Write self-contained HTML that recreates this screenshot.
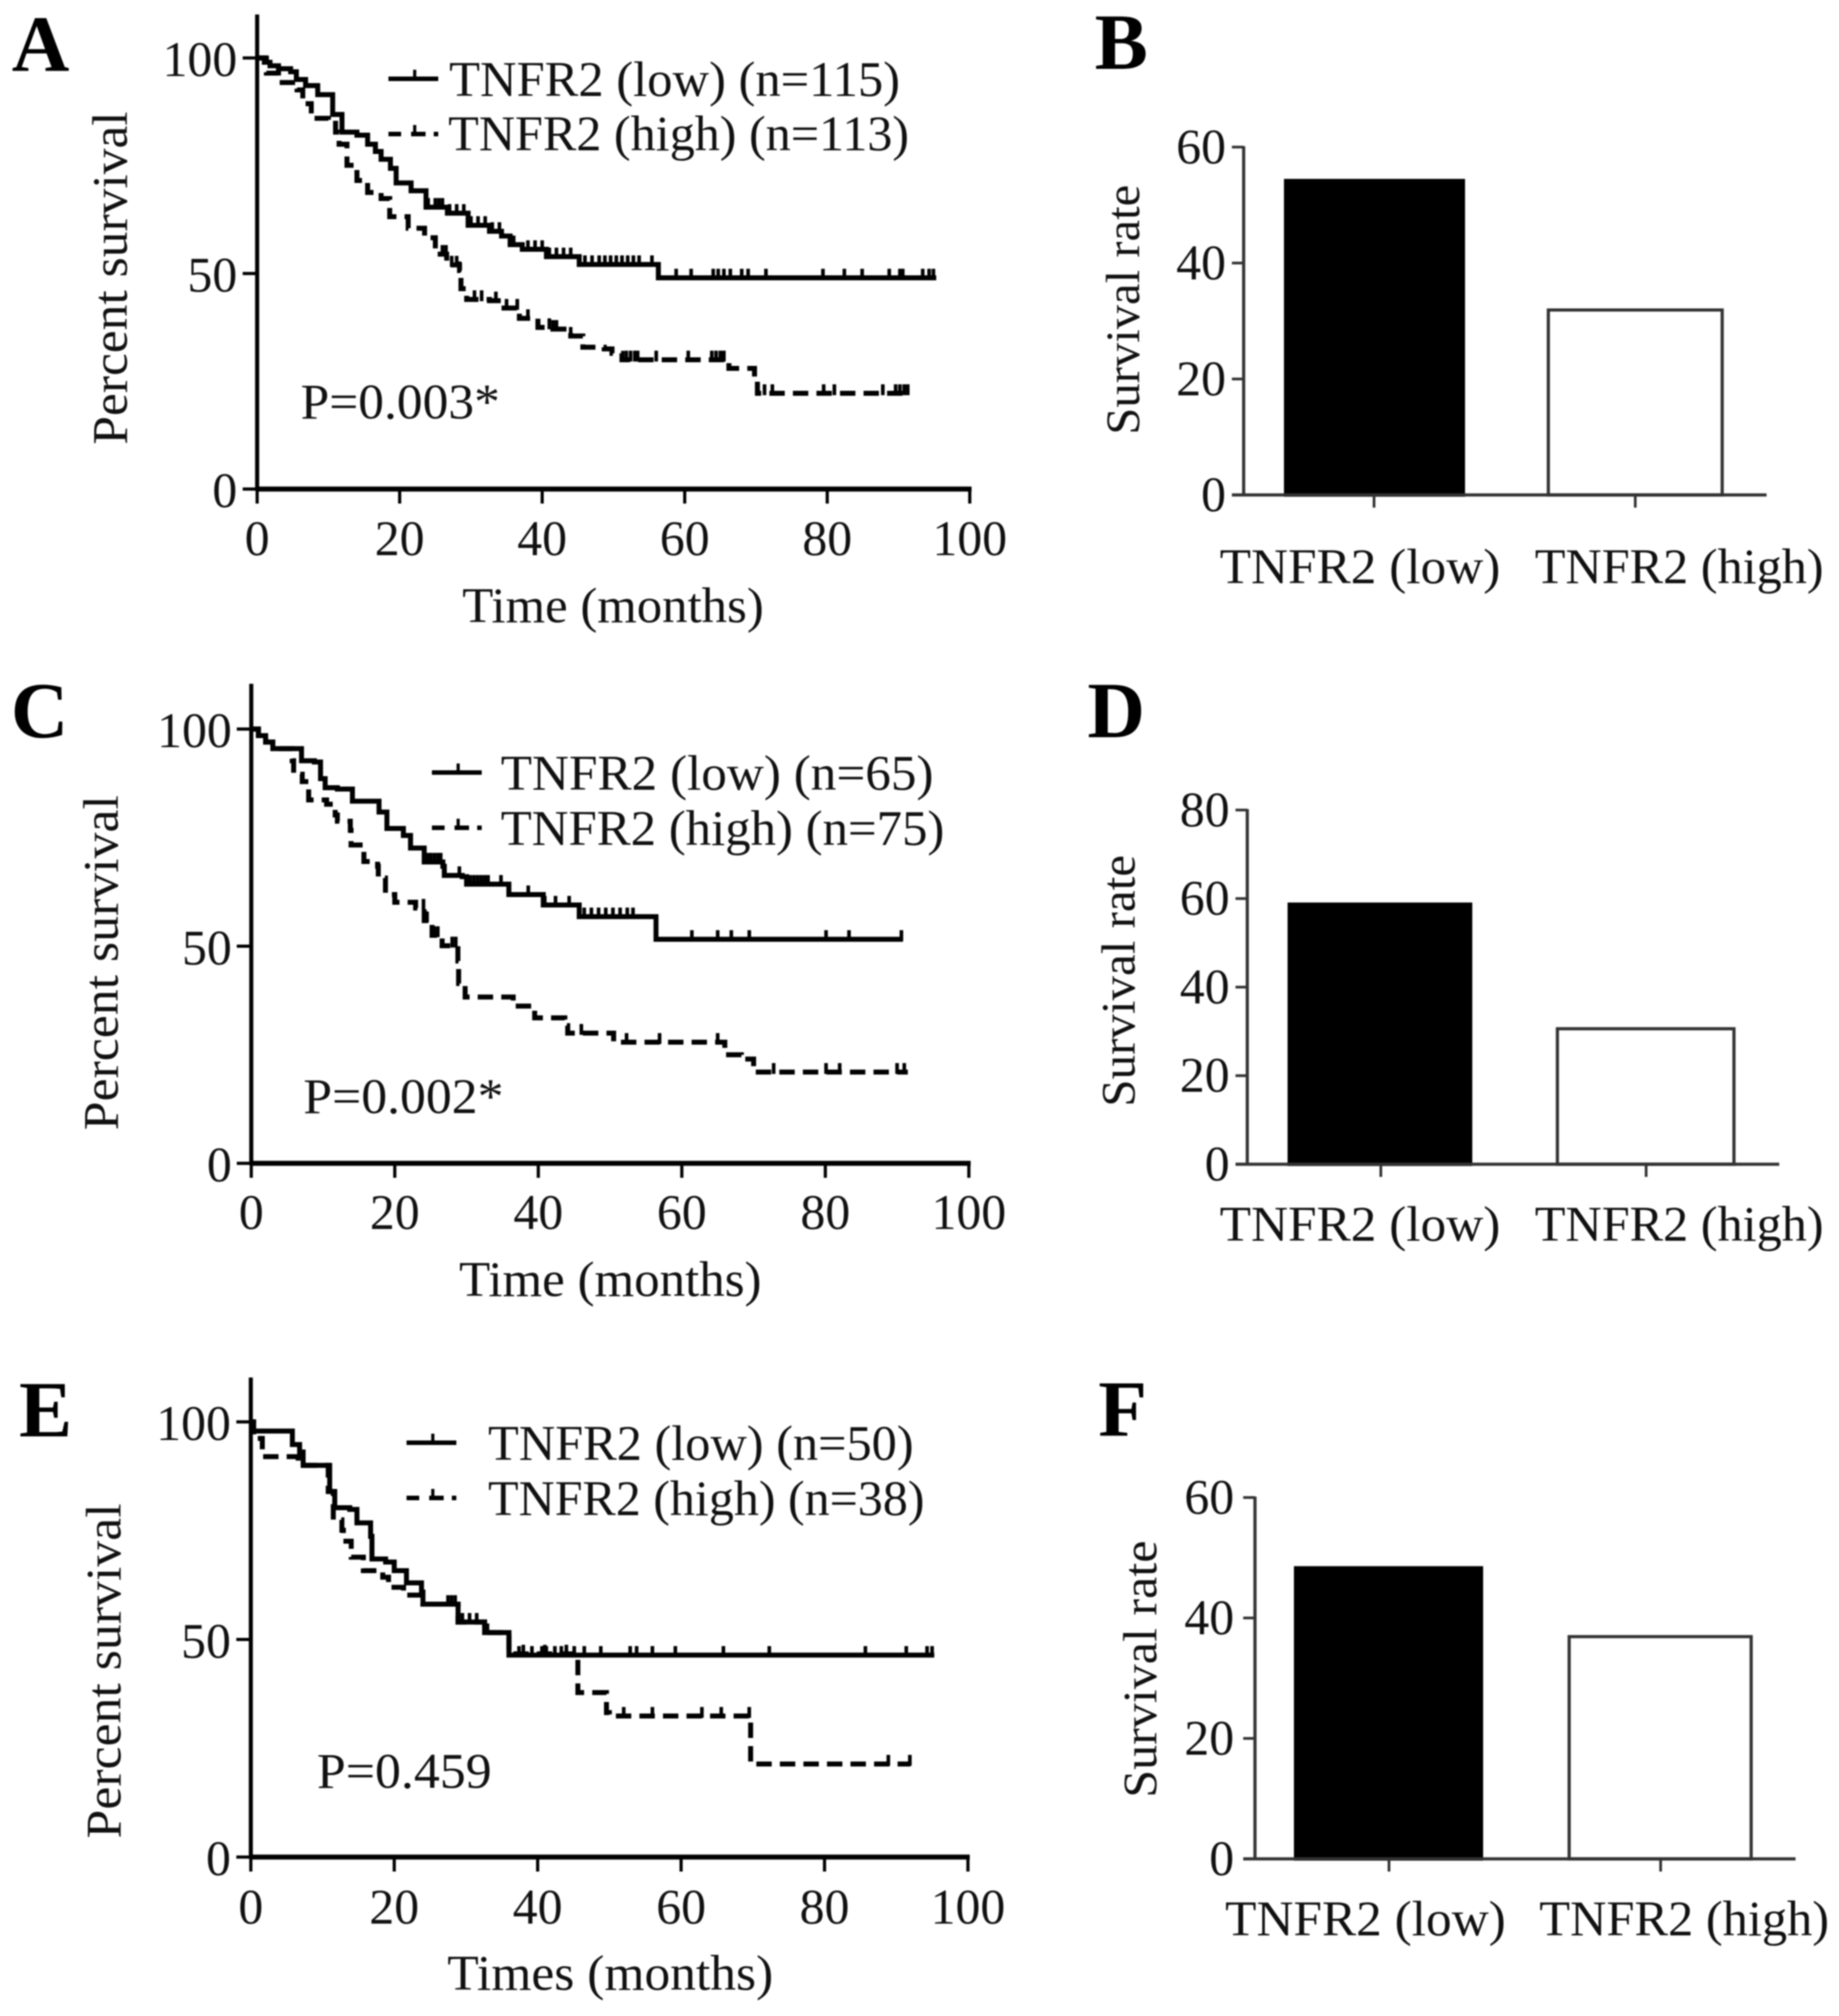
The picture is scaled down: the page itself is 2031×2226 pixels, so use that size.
<!DOCTYPE html>
<html lang="en">
<head>
<meta charset="utf-8">
<title>TNFR2 survival panels</title>
<style>
html,body{margin:0;padding:0;background:#fff;width:2031px;height:2226px;overflow:hidden}
svg{display:block;filter:blur(0.7px)}
text{font-family:"Liberation Serif",serif;fill:#111;font-size:55px}
.panel{font-weight:bold;font-size:88px;fill:#000}
.bartitle{font-size:53px}
</style>
</head>
<body>
<svg id="fig" xmlns="http://www.w3.org/2000/svg" width="2031" height="2226" viewBox="0 0 2031 2226">
<rect width="2031" height="2226" fill="#fff"/>

<g id="pA">
<text class="panel" x="13" y="78">A</text>
<text x="677" y="687" text-anchor="middle" textLength="333" lengthAdjust="spacingAndGlyphs">Time (months)</text>
<text transform="translate(140 307) rotate(-90)" text-anchor="middle" textLength="368" lengthAdjust="spacingAndGlyphs">Percent survival</text>
<text x="496" y="106" textLength="498" lengthAdjust="spacingAndGlyphs">TNFR2 (low) (n=115)</text>
<text x="495" y="166" textLength="509" lengthAdjust="spacingAndGlyphs">TNFR2 (high) (n=113)</text>
<text x="332" y="462" textLength="220" lengthAdjust="spacingAndGlyphs">P=0.003*</text>
</g>

<g id="pC">
<text class="panel" x="12" y="814">C</text>
<text x="674" y="1431" text-anchor="middle" textLength="334" lengthAdjust="spacingAndGlyphs">Time (months)</text>
<text transform="translate(130 1063) rotate(-90)" text-anchor="middle" textLength="370" lengthAdjust="spacingAndGlyphs">Percent survival</text>
<text x="553" y="872" textLength="478" lengthAdjust="spacingAndGlyphs">TNFR2 (low) (n=65)</text>
<text x="553" y="933" textLength="490" lengthAdjust="spacingAndGlyphs">TNFR2 (high) (n=75)</text>
<text x="335" y="1229" textLength="221" lengthAdjust="spacingAndGlyphs">P=0.002*</text>
</g>

<g id="pE">
<text class="panel" x="21" y="1586">E</text>
<text x="674" y="2197" text-anchor="middle" textLength="360" lengthAdjust="spacingAndGlyphs">Times (months)</text>
<text transform="translate(133 1845) rotate(-90)" text-anchor="middle" textLength="370" lengthAdjust="spacingAndGlyphs">Percent survival</text>
<text x="539" y="1612" textLength="470" lengthAdjust="spacingAndGlyphs">TNFR2 (low) (n=50)</text>
<text x="539" y="1673" textLength="482" lengthAdjust="spacingAndGlyphs">TNFR2 (high) (n=38)</text>
<text x="350" y="1974" textLength="193" lengthAdjust="spacingAndGlyphs">P=0.459</text>
</g>

<g id="pB">
<text class="panel" x="1209" y="76">B</text>
<text class="bartitle" transform="translate(1258 342) rotate(-90)" text-anchor="middle" textLength="276" lengthAdjust="spacingAndGlyphs">Survival rate</text>
</g>
<g id="pD">
<text class="panel" x="1201" y="814">D</text>
<text class="bartitle" transform="translate(1253 1083) rotate(-90)" text-anchor="middle" textLength="278" lengthAdjust="spacingAndGlyphs">Survival rate</text>
</g>
<g id="pF">
<text class="panel" x="1213" y="1585">F</text>
<text class="bartitle" transform="translate(1277 1843) rotate(-90)" text-anchor="middle" textLength="284" lengthAdjust="spacingAndGlyphs">Survival rate</text>
</g>
</svg>

<script>
// ---------- shared tick labels ----------
const kmTimeTicks = [0, 20, 40, 60, 80, 100];
const kmSurvivalTicks = [0, 50, 100];
const barCategories = ["TNFR2 (low)", "TNFR2 (high)"];
const barTicksB = [0, 20, 40, 60];
const barTicksD = [0, 20, 40, 60, 80];
const barTicksF = [0, 20, 40, 60];

// ---------- bar values ----------
const barValuesB = [54.2, 31.9];
const barValuesD = [58.7, 30.6];
const barValuesF = [48.3, 36.9];

// ---------- panel A ----------
const aLowMonths = [0,1,1.8,3,4.7,5.5,6.8,8.5,10.6,11.9,14,15.5,16.6,17.4,18.7,19.5,21.6,23.7,26.7,29.6,32.6,34.3,35.5,37.2,40.6,45.2,56.3,95.3];
const aLowSurvival = [100,99,98.2,97.5,96.8,95,93.6,91.5,86.9,82.8,82.1,80,78.3,76.5,74.4,71,69.2,65.4,64,61.2,59.8,58.7,56.7,55.6,53.9,52.1,49,49];
const aLowCensored = [24,25,25.5,26,27,28,29,30,31,32,33,34,36,38,39,40,41,42,43,44,46,47,48,48.8,49.6,50.4,51.2,52,52.8,53.6,55.4,58.8,60.9,64,64.7,65.5,66.4,68,68.9,71.4,79.4,82.4,84.9,88.7,90.2,90.6,93.4,94.3,94.9];
const aHighMonths = [0,1.3,3,5.6,6.4,7.6,10,11,11.5,12.6,14,15.5,17.4,18.6,21.2,23.5,25,26.6,28.4,28.6,29.4,32.6,34.2,36.8,39.4,41.5,44,45.7,48.7,49.8,51.2,66.2,69.8,70.2,91.3];
const aHighSurvival = [100,96.5,94.3,92.6,89.4,86,85.6,82.8,80,75.1,71.6,68.8,67.4,63.2,60.5,58.3,54.5,52,50.7,46.5,44,43.7,42,39.6,37.5,37.1,35.5,32.9,32.5,31.5,30,28,26,22.2,22.2];
const aHighCensored = [26,26.5,27.3,28,28.4,30.5,31.5,33.5,35,36.5,38,41,41.5,42,44,51.8,52.4,53,53.4,56,60.5,63.8,64.4,65,65.5,71.2,72.3,79.5,81,87.8,89.6,90.2,90.8,91.3];

// ---------- panel C ----------
const cLowMonths = [0,1,2,3,5.7,7,8.8,9.65,10.3,12,14.1,16.8,17.8,18.9,21.2,22.2,24.1,26.7,26.9,29.4,30,35.3,35.9,40.1,40.7,45.1,45.7,56.4,90.8];
const cLowSurvival = [100,98.5,97,95.5,95.5,92.7,92.4,88.6,86.5,86.2,83.4,83.4,80.9,77.1,75.5,72.6,69.4,68.4,66.3,66,64.3,64.3,61.9,61.9,59.5,59.5,56.8,51.6,51.6];
const cLowCensored = [24.6,25,25.5,26,26.4,29,30.5,31,31.5,32,32.5,33,34.8,38.6,40.9,42.4,44.3,46.4,47.4,48.4,49.4,50.4,51.4,52.4,53.2,61.4,65,66.9,69.4,80.1,83.3,90.6];
const cHighMonths = [0,1,2,3,5.7,5.9,7.1,8,10.5,11.7,12,13.8,13.9,15.7,17.6,17.7,18.7,20,22.9,24.1,25.2,26.6,28.8,28.9,29.8,35.5,36.5,39.5,43.7,44.1,50.5,66,68.3,70,91.5];
const cHighSurvival = [100,98.5,97,95.5,92.7,89.6,87.9,83.7,82.7,80.2,78.8,76.7,73.3,69.5,68.4,65.7,61.9,60.1,58.8,55.9,52.5,50.1,46.6,41.4,38.3,38.3,36.2,33.5,31.7,30,27.9,25,24,21,21];
const cHighCensored = [24,24.5,25.5,26,28,28.5,46,52.3,56.9,65,72.8,80.1,82,90,91];

// ---------- panel E ----------
const eLowMonths = [0,0.3,4.7,5.8,6.8,7.3,10.8,11,11.7,13.8,14.8,16.7,16.9,18.8,20,21.7,23.8,24,26.3,28.9,32.2,32.6,35.6,36,95.3];
const eLowSurvival = [100,97.9,97.9,94.8,93.1,90,90,84,80.3,79.9,76.8,73.7,68.5,67.8,65.8,63,60.9,58.1,58.1,54,54,51.6,51.6,46.4,46.4];
const eLowCensored = [27.5,28,28.5,29.5,30.5,31.5,33,37.4,39.2,40.6,41.2,42.4,43.3,45.1,46.5,48.8,52.9,53.8,56,59.2,65.9,72.3,85.7,91.4,94.3,95];
const eHighMonths = [0,0.4,1.6,6.2,6.6,10.8,11.5,12.7,12.9,14,15.7,16.9,18.4,19.2,21.3,24,26.3,28.9,32.2,32.6,35.6,36,45.6,49.6,50,69.7,92];
const eHighSurvival = [100,96.2,92,92,90,84,77.5,75.1,72.6,68.9,65.8,65.8,64.3,62,60.2,58.1,58.1,54,54,51.6,51.6,46.7,37.8,33.2,32.4,21.4,21.4];
const eHighCensored = [38,41,44,52,56,62.9,65.6,69.5,88.9,91.9];

const NS = "http://www.w3.org/2000/svg";
function mk(parent, tag, attrs, txt) {
  const el = document.createElementNS(NS, tag);
  for (const k in attrs) el.setAttribute(k, attrs[k]);
  if (txt !== undefined) el.textContent = txt;
  parent.appendChild(el);
  return el;
}
function survivalAt(months, surv, t) {
  let s = surv[0];
  for (let i = 0; i < months.length; i++) { if (months[i] <= t) s = surv[i]; else break; }
  return s;
}
function stepPath(months, surv, xS, yS) {
  let d = "M" + xS(months[0]) + " " + yS(surv[0]);
  for (let i = 1; i < months.length; i++) {
    d += "H" + xS(months[i]).toFixed(1) + "V" + yS(surv[i]).toFixed(1);
  }
  return d;
}
function drawKM(g, L, low, high) {
  const xS = t => L.x0 + (L.x100 - L.x0) * t / 100;
  const yS = s => L.y0 + (L.y100 - L.y0) * s / 100;
  const ink = "#000";

  const yAxis = mk(g, "line", {x1:L.x0,x2:L.x0,y1:L.top,y2:L.y0+2,stroke:ink,"stroke-width":4.5});
  
  
  const xAxis = mk(g, "line", {x1:L.x0,x2:L.x100+2,y1:L.y0,y2:L.y0,stroke:ink,"stroke-width":5.5});
  
  

  kmTimeTicks.forEach(v => {
    const tk = mk(g, "line", {x1:xS(v),x2:xS(v),y1:L.y0,y2:L.y0+16,stroke:ink,"stroke-width":3.5});
    
    
    const lb = mk(g, "text", {x:xS(v),y:L.xLabelY,"text-anchor":"middle"}, String(v));
    
    
  });
  kmSurvivalTicks.forEach(v => {
    const tk = mk(g, "line", {x1:L.x0-16,x2:L.x0,y1:yS(v),y2:yS(v),stroke:ink,"stroke-width":3.5});
    
    
    const lb = mk(g, "text", {x:L.yLabelX,y:yS(v)+20,"text-anchor":"end"}, String(v));
    
    
  });

  const hi = mk(g, "path", {d:stepPath(high.m, high.s, xS, yS),fill:"none",stroke:ink,"stroke-width":5.5,"stroke-dasharray":"17 9"});
  
  
  high.c.forEach(t => {
    const y = yS(survivalAt(high.m, high.s, t));
    const c = mk(g, "line", {x1:xS(t),x2:xS(t),y1:y+2,y2:y-10,stroke:ink,"stroke-width":4});
    
    
  });
  const lo = mk(g, "path", {d:stepPath(low.m, low.s, xS, yS),fill:"none",stroke:ink,"stroke-width":5.5});
  
  
  low.c.forEach(t => {
    const y = yS(survivalAt(low.m, low.s, t));
    const c = mk(g, "line", {x1:xS(t),x2:xS(t),y1:y+2,y2:y-10,stroke:ink,"stroke-width":4});
    
    
  });

  // legend samples
  const sl = mk(g, "line", {x1:L.lgX,x2:L.lgX+55,y1:L.lgY1,y2:L.lgY1,stroke:ink,"stroke-width":5});
  
  
  const st = mk(g, "line", {x1:L.lgX+29,x2:L.lgX+29,y1:L.lgY1,y2:L.lgY1-10,stroke:ink,"stroke-width":3.5});
  
  
  const dl = mk(g, "line", {x1:L.lgX,x2:L.lgX+55,y1:L.lgY2,y2:L.lgY2,stroke:ink,"stroke-width":5,"stroke-dasharray":"14 11 16 9 5"});
  
  
  const dt = mk(g, "line", {x1:L.lgX+29,x2:L.lgX+29,y1:L.lgY2,y2:L.lgY2-10,stroke:ink,"stroke-width":3.5});
  
  
}
function drawBars(g, L, ticks, values) {
  const yS = v => L.y0 + (L.yTop - L.y0) * v / ticks[ticks.length - 1];
  const ink = "#333";
  values.forEach((v, i) => {
    const b = mk(g, "rect", {x:L.barX[i],y:yS(v),width:L.barW[i],height:L.y0-yS(v),
      fill:i === 0 ? "#000" : "#fff",stroke:i === 0 ? "#000" : ink,"stroke-width":i === 0 ? 4 : 3.5});
    
    
    const tk = mk(g, "line", {x1:L.tickX[i],x2:L.tickX[i],y1:L.y0,y2:L.y0+14,stroke:ink,"stroke-width":3});
    
    
    const lb = mk(g, "text", {x:L.labelX[i],y:L.labelY,textLength:L.labelW[i],lengthAdjust:"spacingAndGlyphs"}, barCategories[i]);
    
    
  });
  const ya = mk(g, "line", {x1:L.ax,x2:L.ax,y1:yS(ticks[ticks.length-1])-1,y2:L.y0,stroke:ink,"stroke-width":3.5});
  
  
  const xa = mk(g, "line", {x1:L.ax-13,x2:L.xEnd,y1:L.y0,y2:L.y0,stroke:ink,"stroke-width":3.5});
  
  
  ticks.forEach(v => {
    const tk = mk(g, "line", {x1:L.ax-13,x2:L.ax,y1:yS(v),y2:yS(v),stroke:ink,"stroke-width":3});
    
    
    const lb = mk(g, "text", {x:L.yLabelX,y:yS(v)+18,"text-anchor":"end"}, String(v));
    
    
  });
}

drawKM(document.getElementById("pA"),
  {x0:284,x100:1071,y0:540,y100:64,top:16,xLabelY:613,yLabelX:262,lgX:429,lgY1:87,lgY2:148},
  {m:aLowMonths,s:aLowSurvival,c:aLowCensored},{m:aHighMonths,s:aHighSurvival,c:aHighCensored});
drawKM(document.getElementById("pC"),
  {x0:277.5,x100:1070,y0:1284.5,y100:805,top:755,xLabelY:1357,yLabelX:256,lgX:477,lgY1:853,lgY2:914},
  {m:cLowMonths,s:cLowSurvival,c:cLowCensored},{m:cHighMonths,s:cHighSurvival,c:cHighCensored});
drawKM(document.getElementById("pE"),
  {x0:277,x100:1069,y0:2050.5,y100:1570,top:1521,xLabelY:2124,yLabelX:255,lgX:449,lgY1:1593,lgY2:1654},
  {m:eLowMonths,s:eLowSurvival,c:eLowCensored},{m:eHighMonths,s:eHighSurvival,c:eHighCensored});

drawBars(document.getElementById("pB"),
  {ax:1373.5,y0:546.5,yTop:162.4,xEnd:1951,barX:[1420,1710],barW:[196,192],tickX:[1517.5,1806],labelX:[1347,1695],labelW:[310,319],labelY:644,yLabelX:1354},
  barTicksB, barValuesB);
drawBars(document.getElementById("pD"),
  {ax:1377.5,y0:1285.5,yTop:894.4,xEnd:1965,barX:[1424,1720],barW:[200,195],tickX:[1525,1818],labelX:[1347,1695],labelW:[310,319],labelY:1370,yLabelX:1358},
  barTicksD, barValuesD);
drawBars(document.getElementById("pF"),
  {ax:1386,y0:2052.5,yTop:1653.5,xEnd:1983,barX:[1431,1733],barW:[205,201],tickX:[1534,1834],labelX:[1353,1700],labelW:[310,320],labelY:2137,yLabelX:1363},
  barTicksF, barValuesF);
</script>
</body>
</html>
